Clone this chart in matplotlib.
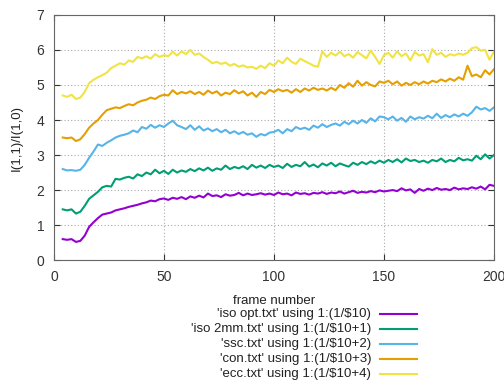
import matplotlib
matplotlib.use("Agg")
import matplotlib.pyplot as plt
from matplotlib.lines import Line2D
import numpy as np

plt.rcParams['font.family'] = ['Liberation Sans', 'DejaVu Sans']

# frame numbers (every second frame)
frames = np.arange(4, 201, 2)

iso_opt = [0.60, 0.58, 0.60, 0.52, 0.55, 0.70, 0.95, 1.08, 1.20, 1.30,
           1.33, 1.36, 1.42, 1.45, 1.48, 1.52, 1.55, 1.58, 1.62, 1.65,
           1.70, 1.68, 1.74, 1.76, 1.72, 1.78, 1.75, 1.80, 1.74, 1.82,
           1.78, 1.84, 1.79, 1.90, 1.83, 1.85, 1.80, 1.88, 1.84, 1.86,
           1.92, 1.85, 1.90, 1.86, 1.88, 1.91, 1.87, 1.90, 1.86, 1.93,
           1.88, 1.90, 1.85, 1.93, 1.89, 1.91, 1.87, 1.92, 1.90, 1.94,
           1.89, 1.93, 1.91, 1.96, 1.90, 1.94, 1.98, 1.92, 1.95, 1.93,
           1.97, 1.94, 1.99, 1.96, 1.98, 2.00, 1.97, 2.05, 1.99, 2.02,
           1.92, 2.03, 1.98, 2.04, 2.00, 2.06, 2.01, 2.03, 2.00, 2.07,
           2.02, 2.05, 2.03, 2.08, 2.04, 2.10, 2.02, 2.15, 2.12]

iso_2mm = [1.45, 1.42, 1.45, 1.33, 1.38, 1.55, 1.75, 1.85, 1.95, 2.08,
           2.12, 2.10, 2.32, 2.30, 2.35, 2.38, 2.33, 2.45, 2.40, 2.50,
           2.45, 2.58, 2.48, 2.55, 2.46, 2.58, 2.50, 2.56, 2.52, 2.60,
           2.54, 2.62, 2.56, 2.64, 2.55, 2.62, 2.58, 2.70, 2.60, 2.66,
           2.62, 2.68, 2.60, 2.72, 2.64, 2.70, 2.63, 2.72, 2.66, 2.70,
           2.63, 2.75, 2.66, 2.72, 2.68, 2.80, 2.67, 2.73, 2.65, 2.76,
           2.70, 2.78, 2.68, 2.76, 2.71, 2.67, 2.78, 2.72, 2.80, 2.74,
           2.82, 2.76, 2.84, 2.78, 2.86, 2.80, 2.88, 2.79, 2.90, 2.83,
           2.86, 2.80, 2.84, 2.78, 2.86, 2.82, 2.90, 2.80, 2.86, 2.82,
           2.92, 2.85, 2.88, 2.84, 2.98, 2.88, 3.02, 2.90, 3.00]

ssc = [2.60, 2.56, 2.57, 2.55, 2.58, 2.72, 2.92, 3.10, 3.30, 3.26,
       3.35, 3.42, 3.50, 3.55, 3.58, 3.62, 3.70, 3.65, 3.80, 3.75,
       3.86, 3.78, 3.85, 3.80, 3.90, 3.98, 3.85, 3.80, 3.74, 3.85,
       3.72, 3.82, 3.70, 3.76, 3.68, 3.74, 3.65, 3.72, 3.62, 3.68,
       3.60, 3.66, 3.58, 3.62, 3.52, 3.60, 3.56, 3.64, 3.66, 3.72,
       3.62, 3.74, 3.68, 3.80, 3.74, 3.78, 3.72, 3.84, 3.78, 3.88,
       3.80, 3.86, 3.90, 3.84, 3.95, 3.88, 3.98, 3.90, 4.00, 3.92,
       4.05, 3.96, 4.10, 4.08, 4.02, 4.10, 3.98, 4.06, 3.95, 4.10,
       4.02, 4.08, 4.04, 4.12, 4.05, 4.18, 4.06, 4.14, 4.08, 4.16,
       4.10, 4.18, 4.12, 4.22, 4.38, 4.30, 4.34, 4.26, 4.36]

con = [3.50, 3.48, 3.50, 3.40, 3.45, 3.60, 3.78, 3.90, 4.00, 4.15,
       4.28, 4.32, 4.36, 4.34, 4.40, 4.45, 4.42, 4.50, 4.55, 4.58,
       4.64, 4.60, 4.68, 4.72, 4.70, 4.85, 4.74, 4.80, 4.76, 4.82,
       4.74, 4.80, 4.72, 4.84, 4.76, 4.82, 4.70, 4.78, 4.74, 4.85,
       4.76, 4.82, 4.70, 4.78, 4.66, 4.80, 4.74, 4.86, 4.80, 4.88,
       4.82, 4.86, 4.78, 4.88, 4.80, 4.90, 4.84, 4.92, 4.86, 4.90,
       4.84, 4.92, 4.85, 5.00, 4.92, 5.05, 4.95, 5.12, 4.98, 5.08,
       5.00, 4.96, 5.10, 5.06, 5.12, 5.02, 5.10, 4.98, 5.06, 5.00,
       5.08, 5.02, 5.10, 5.04, 5.12, 5.08, 5.16, 5.10, 5.18, 5.12,
       5.22, 5.15, 5.55, 5.25, 5.30, 5.22, 5.42, 5.30, 5.45]

ecc = [4.70, 4.66, 4.72, 4.60, 4.64, 4.80, 5.05, 5.15, 5.22, 5.28,
       5.35, 5.48, 5.55, 5.62, 5.58, 5.70, 5.66, 5.80, 5.76, 5.82,
       5.75, 5.88, 5.80, 5.85, 5.82, 5.95, 5.84, 5.96, 5.88, 6.00,
       5.86, 5.90, 5.80, 5.72, 5.62, 5.66, 5.60, 5.64, 5.55, 5.60,
       5.52, 5.56, 5.50, 5.52, 5.46, 5.55, 5.48, 5.62, 5.55, 5.70,
       5.62, 5.78, 5.66, 5.60, 5.75, 5.68, 5.62, 5.55, 5.52, 5.96,
       5.80, 5.92, 5.84, 5.95, 5.82, 5.88, 5.78, 5.94, 5.85, 5.76,
       5.98, 5.80, 5.60, 5.85, 5.92, 5.78, 5.96, 5.82, 5.90, 5.70,
       5.94, 5.84, 5.88, 5.65, 6.02, 5.86, 5.92, 5.80, 5.88, 5.84,
       5.90, 5.86, 5.92, 6.05, 6.08, 5.98, 6.00, 5.72, 5.95]

series = [iso_opt, iso_2mm, ssc, con, ecc]
labels = ["'iso opt.txt' using 1:(1/$10)",
          "'iso 2mm.txt' using 1:(1/$10+1)",
          "'ssc.txt' using 1:(1/$10+2)",
          "'con.txt' using 1:(1/$10+3)",
          "'ecc.txt' using 1:(1/$10+4)"]
colors = ["#9400d3", "#009e73", "#56b4e9", "#e69f00", "#f0e442"]

fig = plt.figure(figsize=(5.04, 3.82), dpi=100)
ax = fig.add_axes([0.107, 0.319, 0.873, 0.642])

for vals, c in zip(series, colors):
    ax.plot(frames, vals, color=c, lw=1.5)

ax.set_xlim(0, 200)
ax.set_ylim(0, 7)
ax.set_xticks([0, 50, 100, 150, 200])
ax.set_yticks(range(0, 8))
ax.grid(True, color="#aaaaaa", linestyle=(0, (1, 2)), lw=0.8)
ax.tick_params(direction='in', top=True, right=True, length=4,
               labelsize=10, colors="#333333", pad=7)
for sp in ax.spines.values():
    sp.set_color("#666666")

ax.set_xlabel("frame number", fontsize=9.5, color="#222222", labelpad=8)
ax.set_ylabel("I(1,1)/I(1,0)", fontsize=9.5, color="#222222", labelpad=10)

# key below the plot, text right-aligned before the line sample
W, H = 504, 382
for i, (lab, c) in enumerate(zip(labels, colors)):
    y = 1 - (313.5 + i * 15.2) / H
    fig.text(371 / W, y, lab, ha='right', va='center', fontsize=9.5,
             color="#222222")
    fig.add_artist(Line2D([380 / W, 417 / W], [y, y], color=c, lw=1.5))

plt.savefig("out.png", dpi=100)
